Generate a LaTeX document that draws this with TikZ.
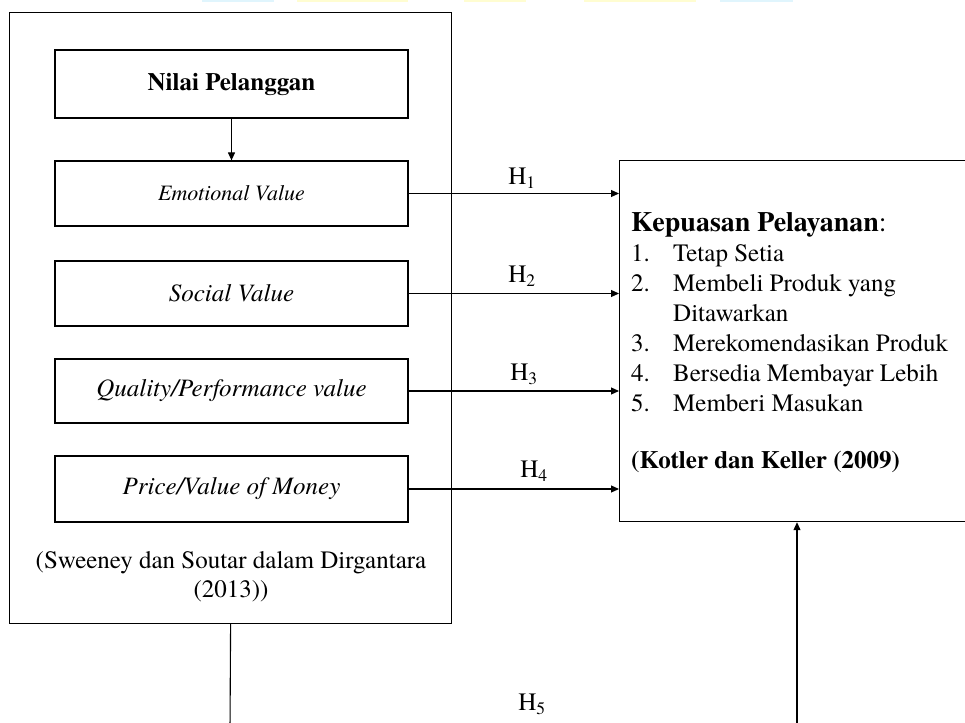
\documentclass[tikz,border=0pt]{standalone}
\usepackage{fontspec}
\setmainfont{TeX Gyre Termes}
\usetikzlibrary{arrows.meta}
\begin{document}
\begin{tikzpicture}[x=1pt,y=-1pt,
  box/.style={draw, line width=1.2pt, inner sep=0pt, minimum width=353pt, font=\fontsize{25}{30}\selectfont},
  frame/.style={draw, line width=1.2pt, inner sep=0pt, anchor=north west},
  conn/.style={line width=1.1pt},
  arr/.style={conn, -{Triangle[length=8pt,width=7pt]}},
  txt/.style={inner sep=0pt, anchor=base west, font=\fontsize{25}{30}\selectfont},
  hlab/.style={inner sep=0pt, font=\fontsize{25}{30}\selectfont}]
\path[use as bounding box, clip] (0,0) rectangle (965,722);
% faint watermark remnants at top
\fill[cyan!12] (202,0) rectangle (274,2.5);
\fill[yellow!18] (297,0) rectangle (408,2.5);
\fill[yellow!18] (464,0) rectangle (526,2.5);
\fill[yellow!18] (584,0) rectangle (696,2.5);
\fill[cyan!12] (720,0) rectangle (793,2.5);

% outer frame
\node[frame, minimum width=442pt, minimum height=611pt] (outer) at (9,12) {};
% inner boxes
\node[box, minimum height=68pt, font=\fontsize{25}{30}\selectfont\bfseries] (nilai) at (231.5,84) {Nilai Pelanggan};
\node[box, minimum height=65pt, font=\fontsize{22}{26}\selectfont\itshape] (emo) at (231.5,193.5) {Emotional Value};
\node[box, minimum height=65pt, font=\fontsize{25}{30}\selectfont\itshape] (soc) at (231.5,293.5) {Social Value};
\node[box, minimum height=64pt, font=\fontsize{25}{30}\selectfont\itshape] (qual) at (231.5,391) {Quality/Performance value};
\node[box, minimum height=66pt, font=\fontsize{25}{30}\selectfont\itshape] (price) at (231.5,489) {Price/Value of Money};
\node[inner sep=0pt, align=center, font=\fontsize{25}{29}\selectfont] (src) at (231,576.5) {(Sweeney dan Soutar dalam Dirgantara\\(2013))};

% right box
\node[frame, minimum width=370pt, minimum height=361pt] (kep) at (619,160) {};
\node[txt, font=\fontsize{28}{32}\selectfont] (head) at (631,231) {\textbf{Kepuasan Pelayanan}:};
\node[txt] (n1) at (631,261) {1.};
\node[txt] (t1) at (673,261) {Tetap Setia};
\node[txt] (n2) at (631,291) {2.};
\node[txt] (t2) at (673,291) {Membeli Produk yang};
\node[txt] (t2b) at (673,321) {Ditawarkan};
\node[txt] (n3) at (631,351) {3.};
\node[txt] (t3) at (673,351) {Merekomendasikan Produk};
\node[txt] (n4) at (631,381) {4.};
\node[txt] (t4) at (673,381) {Bersedia Membayar Lebih};
\node[txt] (n5) at (631,411) {5.};
\node[txt] (t5) at (673,411) {Memberi Masukan};
\node[txt, font=\fontsize{25}{30}\selectfont\bfseries] (kot) at (631,468) {(Kotler dan Keller (2009)};

% connectors
\draw[arr] (nilai.south) -- (emo.north);
\draw[arr] (emo.east) -- (emo.east -| kep.west);
\draw[arr] (soc.east) -- (soc.east -| kep.west);
\draw[arr] (qual.east) -- (qual.east -| kep.west);
\draw[arr] (price.east) -- (price.east -| kep.west);

\node[hlab] (h1) at (522,178) {H\textsubscript{1}};
\node[hlab] (h2) at (522,276) {H\textsubscript{2}};
\node[hlab] (h3) at (524,374) {H\textsubscript{3}};
\node[hlab] (h4) at (534,471) {H\textsubscript{4}};
\node[hlab] (h5) at (532,704) {H\textsubscript{5}};

% bottom lines
\coordinate (b1) at (230,730);
\coordinate (b2) at (797,730);
\draw[conn] (outer.south) -- (b1);
\draw[arr] (b2) -- (b2 |- kep.south);
\end{tikzpicture}
\end{document}
